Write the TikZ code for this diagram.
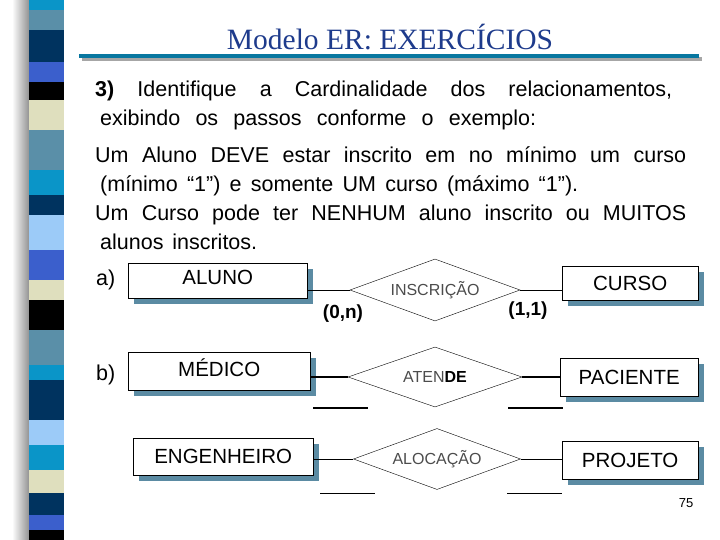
\documentclass[tikz,border=0pt]{standalone}
\usepackage{fontspec}
\setmainfont{Liberation Sans}
\newfontfamily\serifF{Liberation Serif}
\usetikzlibrary{shapes.geometric}
\definecolor{cy}{HTML}{0A95C8}\definecolor{st}{HTML}{5A8FA8}\definecolor{nv}{HTML}{00335F}
\definecolor{bl}{HTML}{3B5FCC}\definecolor{cr}{HTML}{DFDFBE}\definecolor{lb}{HTML}{9CCBF8}
\definecolor{ttl}{HTML}{1E3B8C}\definecolor{shd}{HTML}{5B8BA3}
\tikzset{
  rel/.style={draw,diamond,aspect=2.8,inner sep=0pt,font=\fontsize{16}{18}\selectfont,text=black!70},
  txt/.style={anchor=base west,inner sep=0pt,font=\fontsize{21.5}{24}\selectfont},
  etxt/.style={font=\fontsize{20.5}{23}\selectfont},
  card/.style={font=\bfseries\fontsize{19}{22}\selectfont,inner sep=0pt}}
\newcommand\entbox[5]{% name, x1,y1,x2,y2
 \fill[shd] (#2+6,#3+6) rectangle (#4+6,#5+6);
 \node[draw,fill=white,minimum width=#4pt-#2pt,minimum height=#5pt-#3pt,anchor=north west,inner sep=0pt] (#1) at (#2,#3) {};}
\begin{document}
\begin{tikzpicture}[x=1pt,y=-1pt]
\useasboundingbox (0,0) rectangle (720,540);
\fill[white] (0,0) rectangle (720,540);
% stripe
\shade[left color=white,right color=black!45] (12,0) rectangle (30,540);
\foreach \a/\b/\c in {0/10/cy,10/30/st,30/62/nv,62/82/bl,82/100/black,100/130/cr,130/170/st,170/195/cy,195/215/nv,215/250/lb,250/280/bl,280/300/cr,300/330/black,330/365/st,365/380/cy,380/420/nv,420/445/lb,445/470/cy,470/493/cr,493/515/nv,515/530/bl,530/540/black}
  \fill[\c] (29,\a) rectangle (64,\b);
% title
\node[font=\serifF\fontsize{29.5}{32}\selectfont,text=ttl] (title) at (390,37) {Modelo ER: EXERCÍCIOS};
\fill[black!35] (82,57) rectangle (702,61);
\fill[cy!80!black] (79,54) rectangle (699,58);
% text
\node[txt] (l1) at (95,97) {\makebox[577pt][s]{\textbf{3)} Identifique a Cardinalidade dos relacionamentos,}};
\node[txt] (l2) at (100,126) {\makebox[436pt][s]{exibindo os passos conforme o exemplo:}};
\node[txt] (l3) at (95,163) {\makebox[591pt][s]{Um Aluno DEVE estar inscrito em no mínimo um curso}};
\node[txt] (l4) at (100,192) {\makebox[478pt][s]{(mínimo “1”) e somente UM curso (máximo “1”).}};
\node[txt] (l5) at (95,221) {\makebox[591pt][s]{Um Curso pode ter NENHUM aluno inscrito ou MUITOS}};
\node[txt] (l6) at (100,249) {\makebox[157pt][s]{alunos inscritos.}};
\node[txt] (la) at (96,285) {a)};
\node[txt] (lb) at (96,380) {b)};
% row a
\entbox{aluno}{128}{263}{307}{298}
\node[etxt] at ([yshift=3pt]aluno) {ALUNO};
\node[rel,minimum width=170pt,minimum height=62pt] (insc) at (435,290) {INSCRIÇÃO};
\entbox{curso}{562}{266}{698}{300}
\node[etxt] at (curso) {CURSO};
\draw (aluno.east|-insc) -- (insc.west);
\draw (insc.east) -- (curso.west|-insc);
\node[card] (c1) at (343,314) {(0,n)};
\node[card] (c2) at (528,311) {(1,1)};
% row b
\entbox{medico}{128}{352}{310}{390}
\node[etxt] at ([yshift=3pt]medico) {MÉDICO};
\node[rel,minimum width=174pt,minimum height=60pt] (atende) at (435,377) {ATEN\textbf{\color{black}DE}};
\entbox{pac}{560}{358}{698}{396}
\node[etxt] at (pac) {PACIENTE};
\draw[line width=1.4pt] (medico.east|-atende) -- (atende.west);
\draw[line width=1.4pt] (atende.east) -- (pac.west|-atende);
\coordinate (u1a) at (313,408); \coordinate (u1b) at (368,408);
\coordinate (u2a) at (508,408); \coordinate (u2b) at (563,408);
\draw[line width=1.4pt] (u1a) -- (u1b); \draw[line width=1.4pt] (u2a) -- (u2b);
% row c
\entbox{eng}{133}{438}{313}{475}
\node[etxt] at (eng) {ENGENHEIRO};
\node[rel,minimum width=167pt,minimum height=61pt] (aloc) at (437,459) {ALOCAÇÃO};
\entbox{proj}{562}{441}{698}{479}
\node[etxt] at (proj) {PROJETO};
\draw (eng.east|-aloc) -- (aloc.west);
\draw (aloc.east) -- (proj.west|-aloc);
\coordinate (u3a) at (320,493); \coordinate (u3b) at (375,493);
\coordinate (u4a) at (507,493); \coordinate (u4b) at (562,493);
\draw (u3a) -- (u3b); \draw (u4a) -- (u4b);
\node[font=\fontsize{13}{15}\selectfont] (pg) at (686,503) {75};
\end{tikzpicture}
\end{document}
